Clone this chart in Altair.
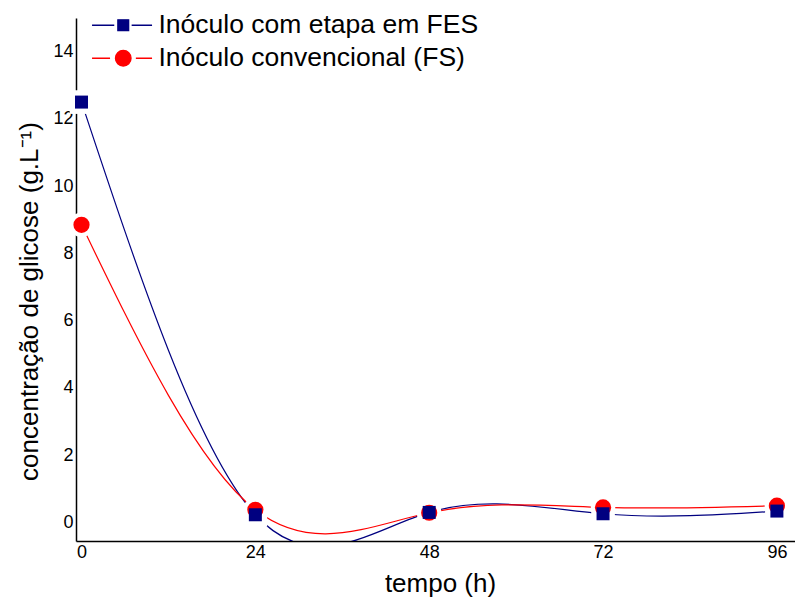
import altair as alt
import pandas as pd

# Glucose concentration over time for the two inoculum strategies
tempo = [0, 24, 48, 72, 96]
glicose_fes = [12.5, 0.23, 0.30, 0.26, 0.34]
glicose_fs = [8.85, 0.38, 0.29, 0.45, 0.50]

series = ["Inóculo com etapa em FES", "Inóculo convencional (FS)"]
series_colors = ["#000080", "#FF0000"]

x_ticks = [0, 24, 48, 72, 96]
y_ticks = [0, 2, 4, 6, 8, 10, 12, 14]

FONT = "Liberation Sans"

df = pd.DataFrame(
    {
        "tempo": tempo + tempo,
        "glicose": glicose_fes + glicose_fs,
        "serie": [series[0]] * len(tempo) + [series[1]] * len(tempo),
    }
)

x_enc = alt.X(
    "tempo:Q",
    scale=alt.Scale(domain=[-0.76, 98.5], nice=False, zero=False),
    axis=alt.Axis(
        values=x_ticks,
        title="tempo (h)",
        titleX=364,
        titleY=50,
        titleBaseline="alphabetic",
        labelPadding=2,
    ),
)
y_enc = alt.Y(
    "glicose:Q",
    scale=alt.Scale(domain=[-0.55, 15.0], nice=False, zero=False),
    axis=alt.Axis(
        values=y_ticks,
        title="concentração de glicose (g.L⁻¹)",
        titleX=-39,
        titleY=283,
        titleAngle=-90,
        titleAlign="center",
        titleBaseline="alphabetic",
        labelPadding=3,
    ),
)

color_scale = alt.Scale(domain=series, range=series_colors)

base = alt.Chart(df).encode(x=x_enc, y=y_enc)
fes = base.transform_filter(alt.datum.serie == series[0])
fs = base.transform_filter(alt.datum.serie == series[1])

# smooth spline through the measurements of each series
curve_fes = fes.mark_line(interpolate="natural", strokeWidth=1.2, clip=True, color=series_colors[0])
curve_fs = fs.mark_line(interpolate="natural", strokeWidth=1.2, clip=True, color=series_colors[1])

# white halos leave a small gap between the curves and the markers
halo_fs = fs.mark_point(filled=True, shape="circle", size=600, fill="white", opacity=1, strokeWidth=0)
halo_fes = fes.mark_point(filled=True, shape="square", size=560, fill="white", opacity=1, strokeWidth=0)

dots_fs = fs.mark_point(filled=True, shape="circle", size=262, fill=series_colors[1], opacity=1, strokeWidth=0)
dots_fes = fes.mark_point(filled=True, shape="square", size=169, fill=series_colors[0], opacity=1, strokeWidth=0)

# legend entries drawn as line-marker-line symbols
legend_paths = [
    "M-5.2,0H-1.5M1.4,0H4.8M-0.9,-0.9H0.9V0.9H-0.9Z",
    "M-5.2,0H-2.2M2.1,0H4.8M1.3,0A1.3,1.3,0,1,1,-1.3,0A1.3,1.3,0,1,1,1.3,0Z",
]
leg = alt.Legend(
    orient="top-left",
    offset=-6,
    padding=0,
    symbolOffset=40,
    symbolSize=144,
    symbolStrokeWidth=1.3,
    symbolOpacity=1,
    labelFont=FONT,
    labelFontSize=26.5,
    labelColor="black",
    labelLimit=0,
    labelOffset=22,
    rowPadding=6,
)
# legend-only layer: its points lie outside the x domain and are clipped
legend_df = pd.DataFrame({"serie": series, "tempo": [200, 200], "glicose": [0, 0]})
legend_layer = (
    alt.Chart(legend_df)
    .mark_point(filled=True, size=144, clip=True, opacity=1)
    .encode(
        color=alt.Color("serie:N", scale=color_scale, legend=leg, title=""),
        stroke=alt.Stroke("serie:N", scale=color_scale, legend=leg, title=""),
        shape=alt.Shape("serie:N", scale=alt.Scale(domain=series, range=legend_paths), legend=leg, title=""),
        x=alt.X("tempo:Q"),
        y=alt.Y("glicose:Q"),
    )
)

chart = (
    alt.layer(curve_fes, curve_fs, halo_fs, halo_fes, dots_fs, dots_fes, legend_layer)
    .properties(
        width=719,
        height=523,
        autosize=alt.AutoSizeParams(type="none"),
        padding={"left": 76, "top": 18, "right": 0, "bottom": 61},
        background="white",
    )
    .configure_view(stroke=None)
    .configure_axis(
        grid=False,
        ticks=False,
        domainColor="black",
        domainWidth=1.5,
        labelFont=FONT,
        labelFontSize=18,
        labelColor="black",
        titleFont=FONT,
        titleFontSize=26,
        titleFontWeight="normal",
        titleColor="black",
    )
)

chart.save("out.html", embed_options={"renderer": "svg", "actions": False})
